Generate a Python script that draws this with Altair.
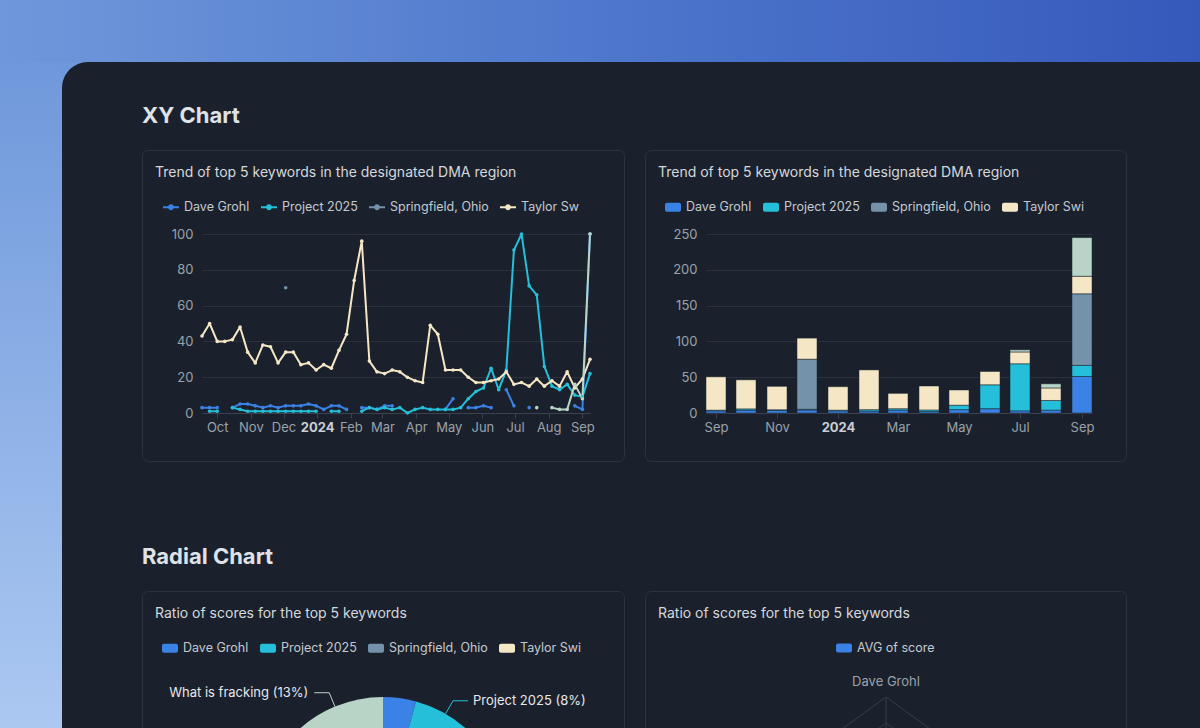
import json
import altair as alt
import pandas as pd

# ------------------------------------------------------------------ data
KEYWORDS = ["Dave Grohl", "Project 2025", "Springfield, Ohio", "Taylor Swift", "What is fracking"]
COLORS = ["#3b82e6", "#25bfd9", "#7492aa", "#f5e7c6", "#b8d4c7"]

# weekly observations (Sundays)
WEEKS = [
    "2023-09-17", "2023-09-24", "2023-10-01", "2023-10-08", "2023-10-15", "2023-10-22", "2023-10-29",
    "2023-11-05", "2023-11-12", "2023-11-19", "2023-11-26", "2023-12-03", "2023-12-10", "2023-12-17",
    "2023-12-24", "2023-12-31", "2024-01-07", "2024-01-14", "2024-01-21", "2024-01-28", "2024-02-04",
    "2024-02-11", "2024-02-18", "2024-02-25", "2024-03-03", "2024-03-10", "2024-03-17", "2024-03-24",
    "2024-03-31", "2024-04-07", "2024-04-14", "2024-04-21", "2024-04-28", "2024-05-05", "2024-05-12",
    "2024-05-19", "2024-05-26", "2024-06-02", "2024-06-09", "2024-06-16", "2024-06-23", "2024-06-30",
    "2024-07-07", "2024-07-14", "2024-07-21", "2024-07-28", "2024-08-04", "2024-08-11", "2024-08-18",
    "2024-08-25", "2024-09-01", "2024-09-08",
]

N = None
DAVE_GROHL = [
    3, 3, 3, N, 3, 5, 5, 4, 3, 4,
    3, 4, 4, 4, 5, 4, 2, 4, 4, 2,
    N, 3, 3, 2, 4, 4, N, N, N, N,
    N, N, 2, 8, N, 3, 3, 4, 3, N,
    13, 4, N, 3, N, N, N, N, N, 4,
    2, 100,
]
PROJECT_2025 = [
    N, 1, 1, N, 3, 2, 1, 1, 1, 1,
    1, 1, 1, 1, 1, 1, N, 1, 1, N,
    N, 1, 3, 2, 3, 2, 3, 0, 2, 3,
    2, 2, 2, 2, 3, 8, 12, 14, 25, 13,
    24, 91, 100, 71, 66, 26, 15, 13, 16, 10,
    9, 22,
]
SPRINGFIELD_OHIO = [
    N, N, N, N, N, N, N, N, N, N,
    N, 70, N, N, N, N, N, N, N, N,
    N, N, N, N, N, N, N, N, N, N,
    N, N, N, N, N, N, N, N, N, N,
    N, N, N, N, N, N, N, N, N, N,
    N, 100,
]
TAYLOR_SWIFT = [
    43, 50, 40, 40, 41, 48, 34, 28, 38, 37,
    28, 34, 34, 27, 28, 24, 27, 25, 35, 44,
    74, 96, 29, 23, 22, 24, 23, 20, 18, 17,
    49, 44, 24, 24, 24, 20, 17, 17, 18, 19,
    23, 16, 17, 15, 19, 15, 18, 15, 23, 14,
    19, 30,
]
WHAT_IS_FRACKING = [
    N, N, N, N, N, N, N, N, N, N,
    N, N, N, N, N, N, N, N, N, N,
    N, N, N, N, N, N, N, N, N, N,
    N, N, N, N, N, N, N, N, N, N,
    N, N, N, N, 3, N, 3, 2, 2, 16,
    8, 100,
]
SERIES = [DAVE_GROHL, PROJECT_2025, SPRINGFIELD_OHIO, TAYLOR_SWIFT, WHAT_IS_FRACKING]

LINE_X_TICKS = ["2023-10-01", "2023-11-01", "2023-12-01", "2024-01-01", "2024-02-01", "2024-03-01",
                "2024-04-01", "2024-05-01", "2024-06-01", "2024-07-01", "2024-08-01", "2024-09-01"]
LINE_Y_TICKS = [0, 20, 40, 60, 80, 100]
BAR_X_TICKS = ["2023-09-01", "2023-11-01", "2024-01-01", "2024-03-01", "2024-05-01", "2024-07-01", "2024-09-01"]
BAR_Y_TICKS = [0, 50, 100, 150, 200, 250]
BAR_X_DOMAIN = ["2023-08-22", "2024-09-11"]
RADAR_LEVELS = [20, 40, 60, 80, 100]
RADAR_SERIES = ["AVG of score"]

HEADER_XY = "XY Chart"
HEADER_RADIAL = "Radial Chart"
TITLE_TREND = "Trend of top 5 keywords in the designated DMA region"
TITLE_RATIO = "Ratio of scores for the top 5 keywords"

trend = pd.DataFrame(
    [{"date": w, "keyword": k, "value": v} for k, s in zip(KEYWORDS, SERIES) for w, v in zip(WEEKS, s)]
)

# ------------------------------------------------------------------ style
FONT = "Inter"
PANEL = "#1b212c"
CARD_STROKE = "#2c3340"
GRID = "#2a313d"
AXIS_LINE = "#3a4250"
AXIS_LABEL = "#9aa1ab"
LEGEND_LABEL = "#c4c9d0"
CARD_TITLE = "#d4d8dd"
HEADER = "#dfe2e6"
RADAR_GRID = "#363d49"
W, H = 1200, 728

LINE_SYMBOL = "M-1,-0.12H1V0.12H-1Z M0.36,0A0.36,0.36 0 1 1 -0.36,0A0.36,0.36 0 1 1 0.36,0Z"
SWATCH = ("M-0.75,-0.55H0.75A0.25,0.25 0 0 1 1,-0.3V0.3A0.25,0.25 0 0 1 0.75,0.55"
          "H-0.75A0.25,0.25 0 0 1 -1,0.3V-0.3A0.25,0.25 0 0 1 -0.75,-0.55Z")

color_scale = alt.Scale(domain=KEYWORDS, range=COLORS)


def dt(s):
    y, m, d = (int(p) for p in s.split("-"))
    return alt.DateTime(year=y, month=m, date=d, utc=True)


def legend(x, y, symbol, values, cut=None):
    kw = dict(orient="none", legendX=x, legendY=y, direction="horizontal", title=None, values=values,
              symbolType=symbol, symbolSize=256, symbolStrokeWidth=0, symbolOpacity=1, labelFont=FONT,
              labelFontSize=12.5, labelColor=LEGEND_LABEL, labelOffset=5, columnPadding=11, padding=0)
    if cut is not None:
        kw["labelExpr"] = f"datum.index == {len(values) - 1} ? slice(datum.label, 0, {cut}) : datum.label"
    return alt.Legend(**kw)


JAN_TEST = "utcmonth(datum.value) == 0"
JAN_WEIGHT = {"condition": {"test": JAN_TEST, "value": 700}, "value": 400}
JAN_COLOR = {"condition": {"test": JAN_TEST, "value": "#c9ced5"}, "value": AXIS_LABEL}
MONTH_LABEL = f"{JAN_TEST} ? utcFormat(datum.value, '%Y') : utcFormat(datum.value, '%b')"
AXIS_Y = 413


def x_axis(ticks):
    return alt.Axis(orient="bottom", offset=AXIS_Y - H, values=[dt(t) for t in ticks], grid=False,
                    domain=True, domainColor=AXIS_LINE, ticks=True, tickColor=AXIS_LINE, tickSize=5,
                    labelPadding=3, labelFlush=False, labelOverlap=False, labelFont=FONT, labelFontSize=13,
                    labelFontWeight=JAN_WEIGHT, labelColor=JAN_COLOR, labelExpr=MONTH_LABEL, title=None)


def y_axis(ticks, xpos):
    return alt.Axis(orient="left", offset=-xpos, values=ticks, grid=True, gridColor=GRID, domain=False,
                    ticks=False, tickSize=0, labelPadding=9, labelFont=FONT, labelFontSize=13,
                    labelColor=AXIS_LABEL, title=None)


one = pd.DataFrame({"k": [0]})


def box(x, x2, y, y2, **mark):
    return alt.Chart(one).mark_rect(**mark).encode(
        x=alt.value(x), x2=alt.value(x2), y=alt.value(y), y2=alt.value(y2))


def label(txt, x, y, size, color, weight=400):
    return alt.Chart(one).mark_text(align="left", baseline="middle", font=FONT, fontSize=size,
                                    fontWeight=weight, color=color).encode(
        x=alt.value(x), y=alt.value(y), text=alt.value(txt))


# ------------------------------------------------------------------ decoration
grad_h = alt.LinearGradient(gradient="linear", x1=0, y1=0, x2=1, y2=0, stops=[
    alt.GradientStop(offset=0, color="#6f98db"), alt.GradientStop(offset=0.5, color="#4f77cc"),
    alt.GradientStop(offset=1, color="#3559bb")])
grad_v = alt.LinearGradient(gradient="linear", x1=0, y1=0, x2=0, y2=1, stops=[
    alt.GradientStop(offset=0, color="#6f98db"), alt.GradientStop(offset=1, color="#abc8f1")])

decor = [
    box(0, W, 0, 62, color=grad_h),
    box(0, 62, 62, H, color=grad_v),
    box(62, 92, 62, 92, color="#6f98db"),
    box(62, 140, 62, 140, color=PANEL, cornerRadiusTopLeft=26),
    box(142.5, 624.5, 150.5, 461.5, filled=False, stroke=CARD_STROKE, strokeWidth=1, cornerRadius=6),
    box(645.5, 1126.5, 150.5, 461.5, filled=False, stroke=CARD_STROKE, strokeWidth=1, cornerRadius=6),
    box(142.5, 624.5, 591.5, 760, filled=False, stroke=CARD_STROKE, strokeWidth=1, cornerRadius=6),
    box(645.5, 1126.5, 591.5, 760, filled=False, stroke=CARD_STROKE, strokeWidth=1, cornerRadius=6),
    label(HEADER_XY, 142, 116, 22, HEADER, 700),
    label(HEADER_RADIAL, 142, 557, 22, HEADER, 700),
    label(TITLE_TREND, 155, 173, 14, CARD_TITLE),
    label(TITLE_TREND, 658, 173, 14, CARD_TITLE),
    label(TITLE_RATIO, 155, 614, 14, CARD_TITLE),
    label(TITLE_RATIO, 658, 614, 14, CARD_TITLE),
]

# ------------------------------------------------------------------ line chart
LX = alt.X("date:T", scale=alt.Scale(type="utc", domain=[dt(WEEKS[0]), dt(WEEKS[-1])], range=[202, 590],
                                     nice=False, padding=0), axis=x_axis(LINE_X_TICKS))
LY = alt.Y("value:Q", scale=alt.Scale(domain=[0, 100], range=[AXIS_Y, 234], nice=False),
           axis=y_axis(LINE_Y_TICKS, 202))
line_legend = legend(163, 199, LINE_SYMBOL, KEYWORDS[:4], 9)
line_base = alt.Chart(trend).encode(x=LX, y=LY)
lines = line_base.mark_line(strokeWidth=2, strokeJoin="round").encode(
    color=alt.Color("keyword:N", scale=color_scale, legend=line_legend))
points = line_base.mark_point(filled=True, size=13, opacity=1).encode(
    color=alt.Color("keyword:N", scale=color_scale, legend=line_legend))
line_chart = alt.layer(lines, points)

# ------------------------------------------------------------------ stacked monthly bars
bar_chart = (
    alt.Chart(trend)
    .transform_filter("isValid(datum.value)")
    .transform_calculate(d="toDate(datum.date)")
    .transform_timeunit(month="utcyearmonth(d)")
    .transform_aggregate(avg="mean(value)", groupby=["month", "keyword"])
    .mark_bar(size=20, stroke=PANEL, strokeWidth=0.5)
    .encode(
        x=alt.X("month:T", scale=alt.Scale(type="utc", domain=[dt(BAR_X_DOMAIN[0]), dt(BAR_X_DOMAIN[1])],
                                           range=[706, 1092], nice=False, padding=0), axis=x_axis(BAR_X_TICKS)),
        y=alt.Y("avg:Q", stack="zero", scale=alt.Scale(domain=[0, 250], range=[AXIS_Y, 234], nice=False),
                axis=y_axis(BAR_Y_TICKS, 706)),
        color=alt.Color("keyword:N", scale=color_scale, legend=legend(665, 199, SWATCH, KEYWORDS[:4], 10)),
        order=alt.Order("keyword:N", sort="ascending"),
    )
)

# ------------------------------------------------------------------ pie
PCX, PCY, PR = 383, 822, 125
pie_base = (
    alt.Chart(trend)
    .transform_filter("isValid(datum.value)")
    .transform_aggregate(avg="mean(value)", groupby=["keyword"])
    .transform_joinaggregate(total="sum(avg)")
    .transform_window(cum="sum(avg)", sort=[alt.SortField("keyword")], frame=[None, 0])
    .transform_calculate(mid="2*PI*(datum.cum - datum.avg/2)/datum.total", pct="datum.avg/datum.total")
    .transform_calculate(
        x1=f"{PCX} + {PR}*sin(datum.mid)", y1=f"{PCY} - {PR}*cos(datum.mid)",
        x2=f"{PCX} + {PR + 15}*sin(datum.mid)", y2=f"{PCY} - {PR + 15}*cos(datum.mid)",
        lab="datum.keyword + ' (' + format(datum.pct, '.0%') + ')'",
    )
    .transform_calculate(x3="datum.x2 + (sin(datum.mid) >= 0 ? 15 : -15)")
)
pie_legend = legend(162, 640, SWATCH, KEYWORDS[:4], 10)
arcs = pie_base.mark_arc(radius=PR).encode(
    theta=alt.Theta("avg:Q", stack=True),
    color=alt.Color("keyword:N", scale=color_scale, legend=pie_legend),
    order=alt.Order("keyword:N", sort="ascending"),
    x=alt.value(PCX), y=alt.value(PCY),
)
# labels of very thin slices are hidden (as in the reference)
lab_base = pie_base.transform_filter("datum.pct >= 0.05")
lead1 = lab_base.mark_rule(strokeWidth=1).encode(
    x=alt.X("x1:Q", scale=None, axis=None), y=alt.Y("y1:Q", scale=None, axis=None),
    x2="x2:Q", y2="y2:Q", color=alt.Color("keyword:N", scale=color_scale, legend=pie_legend))
lead2 = lab_base.mark_rule(strokeWidth=1).encode(
    x=alt.X("x2:Q", scale=None, axis=None), y=alt.Y("y2:Q", scale=None, axis=None),
    x2="x3:Q", y2="y2:Q", color=alt.Color("keyword:N", scale=color_scale, legend=pie_legend))
lab_r = lab_base.transform_filter("sin(datum.mid) >= 0").mark_text(
    align="left", baseline="middle", dx=5, font=FONT, fontSize=13, color="#e6e8eb").encode(
    x=alt.X("x3:Q", scale=None, axis=None), y=alt.Y("y2:Q", scale=None, axis=None), text="lab:N")
lab_l = lab_base.transform_filter("sin(datum.mid) < 0").mark_text(
    align="right", baseline="middle", dx=-6, font=FONT, fontSize=13, color="#e6e8eb").encode(
    x=alt.X("x3:Q", scale=None, axis=None), y=alt.Y("y2:Q", scale=None, axis=None), text="lab:N")
pie_chart = alt.layer(arcs, lead1, lead2, lab_r, lab_l)

# ------------------------------------------------------------------ radar
RCX, RCY, RR = 886, 827, 130
NK = len(KEYWORDS)
RMAX = max(RADAR_LEVELS)
radar_grid = pd.DataFrame([{"axis": k, "i": i, "level": lv}
                           for lv in RADAR_LEVELS for i, k in enumerate(KEYWORDS)])
grid_base = (
    alt.Chart(radar_grid)
    .transform_calculate(ang=f"2*PI*datum.i/{NK}", rr=f"{RR}*datum.level/{RMAX}")
    .transform_calculate(
        gx=f"{RCX} + datum.rr*sin(datum.ang)", gy=f"{RCY} - datum.rr*cos(datum.ang)",
        cx=f"{RCX}", cy=f"{RCY}",
        lx=f"{RCX} + {RR + 15}*sin(datum.ang)", ly=f"{RCY} - {RR + 15}*cos(datum.ang)",
    )
)
rgrid = grid_base.mark_line(interpolate="linear-closed", color=RADAR_GRID, strokeWidth=1).encode(
    x=alt.X("gx:Q", scale=None, axis=None), y=alt.Y("gy:Q", scale=None, axis=None),
    detail="level:N", order="i:Q")
rspoke = grid_base.transform_filter(f"datum.level == {RMAX}").mark_rule(color=RADAR_GRID, strokeWidth=1).encode(
    x=alt.X("cx:Q", scale=None, axis=None), y=alt.Y("cy:Q", scale=None, axis=None), x2="gx:Q", y2="gy:Q")
rlabel = grid_base.transform_filter(f"datum.level == {RMAX}").mark_text(
    align="center", baseline="middle", font=FONT, fontSize=13, color="#9aa1ab").encode(
    x=alt.X("lx:Q", scale=None, axis=None), y=alt.Y("ly:Q", scale=None, axis=None), text="axis:N")

avg_base = (
    alt.Chart(trend)
    .transform_filter("isValid(datum.value)")
    .transform_aggregate(avg="mean(value)", groupby=["keyword"])
    .transform_calculate(i=f"indexof({json.dumps(KEYWORDS)}, datum.keyword)",
                         series=json.dumps(RADAR_SERIES[0]))
    .transform_calculate(ang=f"2*PI*datum.i/{NK}", rr=f"{RR}*datum.avg/{RMAX}")
    .transform_calculate(ax=f"{RCX} + datum.rr*sin(datum.ang)", ay=f"{RCY} - datum.rr*cos(datum.ang)")
)
radar_scale = alt.Scale(domain=RADAR_SERIES, range=[COLORS[0]])
radar_legend = legend(836, 640, SWATCH, RADAR_SERIES)
rpoly = avg_base.mark_line(interpolate="linear-closed", strokeWidth=2).encode(
    x=alt.X("ax:Q", scale=None, axis=None), y=alt.Y("ay:Q", scale=None, axis=None), order="i:Q",
    color=alt.Color("series:N", scale=radar_scale, legend=radar_legend))
rpts = avg_base.mark_point(filled=True, size=20, opacity=1).encode(
    x=alt.X("ax:Q", scale=None, axis=None), y=alt.Y("ay:Q", scale=None, axis=None),
    color=alt.Color("series:N", scale=radar_scale, legend=radar_legend))
radar_chart = alt.layer(rgrid, rspoke, rlabel, rpoly, rpts)

# ------------------------------------------------------------------ assemble
chart = (
    alt.layer(*decor, line_chart, bar_chart, pie_chart, radar_chart)
    .resolve_scale(x="independent", y="independent", color="independent", theta="independent")
    .properties(width=W, height=H, padding=0, autosize=alt.AutoSizeParams(type="none"), background=PANEL)
    .configure(font=FONT)
    .configure_view(stroke=None)
)

chart.save("out.html", embed_options={"renderer": "svg", "actions": False})
